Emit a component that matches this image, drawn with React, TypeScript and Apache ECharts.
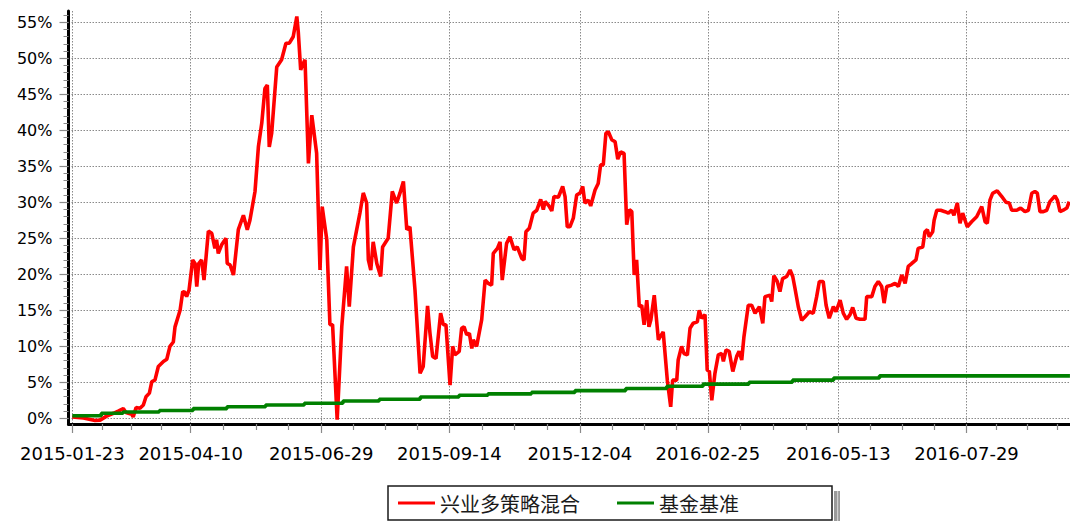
import React, { useEffect, useRef } from "react";
import * as echarts from "echarts";

const fundName = "兴业多策略混合";
const benchName = "基金基准";

// x axis: trading-day index; label positions (trading days from 2015-01-23)
const xTickIdx = [0, 49, 103, 156, 210, 263, 317, 370];
const xTickLabels = [
  "2015-01-23",
  "2015-04-10",
  "2015-06-29",
  "2015-09-14",
  "2015-12-04",
  "2016-02-25",
  "2016-05-13",
  "2016-07-29",
];
const yTickVals = [0, 5, 10, 15, 20, 25, 30, 35, 40, 45, 50, 55];

// fund cumulative return (%), x = trading-day index
const fundDay = [
  0, 4.6, 9.4, 11.5, 14.2, 17.0, 19.0, 21.1, 22.2, 24.6, 25.2, 26.4, 28.0, 29.4, 30.5, 31.9, 32.9, 34.2, 35.6, 37.7,
  39.1, 40.4, 41.8, 42.5, 44.6, 45.7, 46.6, 47.3, 48.3, 49.8, 50.8, 51.5, 52.3, 53.5, 54.5, 56.3, 57.7, 59.0, 59.7, 60.4,
  61.8, 63.6, 64.1, 65.3, 66.7, 68.7, 70.8, 72.4, 73.5, 75.6, 77.0, 78.4, 79.7, 80.7, 81.5, 82.5, 84.6, 86.6, 88.4, 89.8,
  91.4, 92.9, 93.5, 94.5, 95.3, 96.3, 97.7, 99.1, 101.1, 102.5, 103.4, 105.3, 106.6, 107.7, 109.6, 111.5, 113.5, 114.6,
  116.3, 119.0, 120.4, 121.8, 122.5, 123.5, 124.5, 126.0, 127.6, 128.4, 130.7, 132.4, 134.2, 135.6, 137.0, 138.4, 139.7,
  141.8, 143.9, 145.2, 147.0, 148.0, 149.1, 150.5, 152.4, 153.5, 154.6, 156.3, 157.4, 158.3, 160.1, 161.1, 162.1, 163.2,
  164.3, 165.3, 165.9, 167.3, 169.4, 170.8, 172.1, 173.5, 174.2, 175.9, 177.0, 177.9, 179.7, 181.1, 182.8, 184.1, 186.0,
  186.9, 187.7, 189.1, 190.7, 192.2, 193.8, 194.9, 195.6, 197.0, 198.4, 199.3, 201.1, 202.9, 203.9, 204.8, 205.9, 207.3,
  208.7, 210.1, 211.2, 212.1, 213.5, 214.5, 216.3, 217.6, 218.6, 219.7, 220.8, 221.8, 223.2, 224.6, 225.7, 226.9, 228.3,
  229.4, 230.5, 231.5, 232.5, 233.5, 234.6, 235.6, 236.6, 237.7, 238.6, 239.4, 240.8, 242.5, 244.5, 246.2, 247.6, 248.4,
  250.1, 250.7, 252.1, 253.1, 254.5, 255.6, 256.9, 258.6, 259.4, 260.4, 261.8, 262.7, 263.6, 264.6, 265.9, 267.3, 268.7,
  269.4, 270.5, 271.8, 273.3, 274.9, 275.9, 277.0, 277.9, 279.7, 281.1, 282.5, 284.3, 285.7, 286.6, 288.7, 289.4, 290.3,
  291.7, 292.8, 293.9, 295.6, 297.0, 298.1, 299.0, 300.4, 301.8, 303.2, 305.0, 306.6, 308.0, 309.1, 310.7, 311.9, 313.2,
  314.9, 316.0, 317.7, 319.0, 320.4, 321.8, 322.9, 324.3, 325.9, 328.0, 328.7, 330.8, 332.1, 333.5, 334.9, 335.9, 337.0,
  339.0, 340.4, 341.8, 343.2, 344.6, 345.9, 347.3, 349.1, 350.0, 351.9, 352.8, 353.8, 354.6, 356.0, 356.6, 357.7, 359.3,
  361.1, 362.5, 363.9, 364.8, 366.2, 367.3, 368.4, 370.3, 372.1, 374.2, 376.3, 377.7, 378.6, 379.7, 380.8, 382.7, 384.6,
  386.3, 387.7, 388.7, 390.8, 392.4, 394.2, 395.6, 397.0, 398.3, 399.3, 400.4, 401.8, 403.2, 404.5, 406.6, 407.6, 408.7,
  410.0, 411.5, 412.5,
];
const fundReturn = [
  0.2, 0.05, -0.3, -0.25, 0.3, 0.7, 1.0, 1.35, 0.8, 0.55, 0.2, 1.5, 1.4, 1.85, 3.0, 3.5, 5.1, 5.3, 7.2, 7.9,
  8.2, 10.0, 10.6, 12.7, 15.0, 17.6, 17.5, 16.9, 17.8, 22.0, 21.5, 18.3, 21.5, 22.0, 19.2, 26.0, 25.7, 23.6, 24.8, 22.9,
  24.1, 25.0, 21.5, 21.3, 19.9, 26.2, 28.2, 26.2, 27.5, 31.5, 37.7, 41.0, 45.8, 46.3, 37.7, 39.6, 48.8, 49.8, 52.1, 52.1,
  53.0, 55.8, 53.7, 48.4, 49.1, 49.8, 35.4, 42.1, 36.8, 20.6, 29.4, 24.8, 13.0, 13.0, -0.2, 12.7, 21.1, 15.5,
  23.8, 28.5, 31.3, 29.9, 22.0, 20.6, 24.5, 21.5, 19.7, 23.8, 25.0, 31.5, 29.9, 31.3, 32.9, 26.2, 26.6,
  17.8, 6.25, 7.2, 15.6, 11.8, 8.6, 8.3, 14.6, 13.0, 13.0, 4.6, 10.0, 8.8, 9.3, 12.5, 12.7, 11.6,
  11.8, 9.7, 10.9, 10.0, 13.7, 19.2, 18.75, 18.5, 22.9, 23.6, 24.5, 19.2, 24.3, 25.2, 23.4, 23.8, 22.2,
  22.0, 25.9, 26.4, 28.5, 28.9, 30.4, 29.0, 30.1, 29.6, 28.8, 30.8, 30.7, 32.2, 30.8, 26.6, 26.6, 27.8,
  31.0, 31.3, 32.2, 29.9, 30.3, 29.5, 31.7, 32.6, 35.2, 35.2, 39.6, 39.8, 38.7, 38.4, 36.0, 37.0, 36.8,
  26.9, 29.0, 28.7, 19.9, 22.0, 15.5, 15.7, 13.0, 16.4, 12.7, 13.7, 17.1, 10.9, 12.0, 5.3, 1.6, 5.3,
  5.3, 8.1, 10.0, 9.0, 8.8, 12.5, 13.2, 13.4, 15.0, 13.9, 14.4, 6.7, 6.5, 2.5, 6.25, 8.8, 9.0,
  7.9, 9.5, 9.3, 6.5, 8.6, 9.3, 8.1, 11.3, 15.7, 15.7, 14.6, 15.5, 13.2, 16.9, 17.1, 16.2, 19.8,
  19.0, 17.6, 19.4, 19.7, 20.6, 19.7, 18.1, 15.5, 13.6, 14.1, 14.8, 14.6, 16.9, 19.0, 19.0, 15.7, 13.9,
  15.5, 14.8, 16.4, 14.6, 13.75, 14.4, 15.4, 13.9, 13.75, 13.75, 16.9, 16.9, 18.3, 19.0, 18.3, 16.0, 18.3,
  18.5, 18.75, 18.3, 19.9, 18.75, 21.1, 21.5, 22.0, 23.6, 23.8, 25.9, 26.2, 25.2, 25.9, 27.5, 28.9, 28.9,
  28.7, 28.5, 28.9, 28.2, 29.9, 27.1, 28.5, 26.6, 27.3, 28.0, 29.4, 27.3, 27.1, 30.3, 31.25, 31.6, 30.8,
  30.0, 29.9, 28.9, 28.9, 29.2, 28.7, 28.9, 31.25, 31.5, 31.25, 28.7, 28.7, 28.9, 30.1, 30.9, 30.3, 28.7,
  28.9, 29.2, 30.1,
];

// benchmark cumulative return (%), step changes
const benchDay = [0, 12, 21, 36, 50, 64, 80, 96, 112, 127, 144, 160, 172, 190, 208, 229, 246, 261, 280, 298, 315, 334, 412.8];
const benchReturn = [0.35, 0.7, 0.87, 1.09, 1.35, 1.6, 1.85, 2.1, 2.4, 2.65, 2.95, 3.2, 3.4, 3.6, 3.85, 4.15, 4.45, 4.75, 5.0, 5.3, 5.6, 5.9, 5.9];

const X_MIN = -1.57;
const X_MAX = 412.82;
const Y_MIN = -0.79;
const Y_MAX = 56.57;

function buildOption() {
  const xMinor: number[] = [];
  for (let i = 0; i < xTickIdx.length; i++) {
    const a = xTickIdx[i];
    const b = i + 1 < xTickIdx.length ? xTickIdx[i + 1] : a + 50;
    for (let k = 1; k < 4; k++) xMinor.push(a + ((b - a) * k) / 4);
  }
  const yMinor: number[] = [];
  for (let v = 0; v <= 56; v++) yMinor.push(v);

  const gray = "#8a8a8a";
  const fontFamily = "'DejaVu Sans', 'Liberation Sans', sans-serif";

  return {
    animation: false,
    backgroundColor: "#ffffff",
    grid: {
      left: 68.5,
      right: 0,
      top: 11,
      bottom: 97,
      containLabel: false,
      outerBoundsMode: "none",
    },
    graphic: {
      elements: [
        {
          // legend drop shadow (right edge of the legend box)
          type: "rect",
          z: 10,
          silent: true,
          shape: { x: 834, y: 491, width: 6, height: 30 },
          style: { fill: "#9a9a9a" },
        },
        {
          type: "rect",
          z: 11,
          silent: true,
          shape: { x: 837, y: 491, width: 1.2, height: 30 },
          style: { fill: "#d0d0d0" },
        },
      ],
    },
    legend: {
      left: 388,
      top: 486,
      z: 5,
      orient: "horizontal",
      padding: [7, 77, 7, 10],
      itemGap: 10,
      itemWidth: 37,
      itemHeight: 3,
      icon: "rect",
      borderColor: "#1a1a1a",
      borderWidth: 1.5,
      backgroundColor: "#ffffff",
      selectedMode: false,
      textStyle: {
        fontFamily: "'Noto Sans CJK SC', sans-serif",
        fontSize: 20,
        color: "#1a1a1a",
        lineHeight: 20,
      },
      data: [
        { name: fundName, textStyle: { width: 167 } },
        { name: benchName, textStyle: { width: 96 } },
      ],
    },
    xAxis: [
      {
        type: "value",
        min: X_MIN,
        max: X_MAX,
        position: "bottom",
        axisLine: { show: true, onZero: false, lineStyle: { color: "#000000", width: 3 } },
        axisTick: {
          show: true,
          customValues: xTickIdx,
          length: 9,
          lineStyle: { color: gray, width: 1.2 },
        },
        axisLabel: {
          show: true,
          customValues: xTickIdx,
          margin: 20,
          fontFamily,
          fontSize: 18,
          color: "#000000",
          formatter: (v: number) => {
            const i = xTickIdx.indexOf(Math.round(v));
            return i >= 0 ? xTickLabels[i] : "";
          },
        },
        splitLine: {
          show: true,
          lineStyle: { color: gray, width: 1, type: [1.5, 1.5] },
        },
      },
      {
        type: "value",
        min: X_MIN,
        max: X_MAX,
        position: "bottom",
        axisLine: { show: false, onZero: false },
        axisTick: {
          show: true,
          customValues: xMinor,
          length: 6,
          lineStyle: { color: gray, width: 1.2 },
        },
        axisLabel: { show: false },
        splitLine: { show: false },
      },
    ],
    yAxis: [
      {
        type: "value",
        min: Y_MIN,
        max: Y_MAX,
        position: "left",
        axisLine: { show: true, onZero: false, lineStyle: { color: "#000000", width: 3 } },
        axisTick: {
          show: true,
          customValues: yTickVals,
          length: 9,
          lineStyle: { color: gray, width: 1.2 },
        },
        axisLabel: {
          show: true,
          customValues: yTickVals,
          margin: 16,
          fontFamily,
          fontSize: 16,
          color: "#000000",
          padding: [5, 0, 0, 0],
          formatter: (v: number) => `${Math.round(v)}%`,
        },
        splitLine: {
          show: true,
          lineStyle: { color: gray, width: 1, type: [1.5, 1.5] },
        },
      },
      {
        type: "value",
        min: Y_MIN,
        max: Y_MAX,
        position: "left",
        axisLine: { show: false, onZero: false },
        axisTick: {
          show: true,
          customValues: yMinor,
          length: 5,
          lineStyle: { color: gray, width: 1 },
        },
        axisLabel: { show: false },
        splitLine: { show: false },
      },
    ],
    series: [
      {
        name: fundName,
        type: "line",
        xAxisIndex: 0,
        yAxisIndex: 0,
        showSymbol: false,
        symbol: "none",
        color: "#ff0000",
        itemStyle: { color: "#ff0000" },
        lineStyle: { color: "#ff0000", width: 3.6 },
        data: fundDay.map((d, i) => [d, fundReturn[i]]),
        z: 2,
      },
      {
        name: benchName,
        type: "line",
        xAxisIndex: 0,
        yAxisIndex: 0,
        step: "end",
        showSymbol: false,
        symbol: "none",
        color: "#008000",
        itemStyle: { color: "#008000" },
        lineStyle: { color: "#008000", width: 3.6 },
        data: benchDay.map((d, i) => [d, benchReturn[i]]),
        z: 3,
      },
    ],
  };
}

export default function App() {
  const ref = useRef<HTMLDivElement>(null);
  useEffect(() => {
    document.body.style.margin = "0";
    if (!ref.current) return;
    const chart = echarts.init(ref.current, null, { renderer: "svg" });
    chart.setOption(buildOption() as any);
    return () => {
      chart.dispose();
    };
  }, []);
  return (
    <div
      ref={ref}
      style={{ position: "absolute", left: 0, top: 0, width: 1070, height: 521, background: "#ffffff" }}
    />
  );
}
